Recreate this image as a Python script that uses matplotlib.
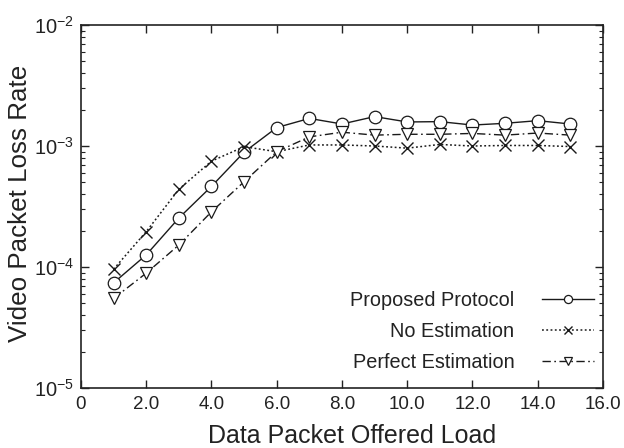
import matplotlib
matplotlib.use("Agg")
import matplotlib.pyplot as plt
from matplotlib.ticker import LogLocator, FixedLocator

plt.rcParams['font.family'] = ['Liberation Sans', 'DejaVu Sans']
plt.rcParams['mathtext.fontset'] = 'custom'
plt.rcParams['mathtext.rm'] = 'Liberation Sans'
plt.rcParams['mathtext.it'] = 'Liberation Sans'

load = [1, 2, 3, 4, 5, 6, 7, 8, 9, 10, 11, 12, 13, 14, 15]
proposed = [7.4e-5, 1.26e-4, 2.54e-4, 4.64e-4, 8.9e-4, 1.42e-3, 1.69e-3, 1.52e-3,
            1.75e-3, 1.58e-3, 1.59e-3, 1.49e-3, 1.54e-3, 1.62e-3, 1.52e-3]
no_est = [9.6e-5, 1.96e-4, 4.39e-4, 7.5e-4, 9.87e-4, 8.97e-4, 1.02e-3, 1.02e-3,
          1.0e-3, 9.6e-4, 1.03e-3, 1.0e-3, 1.01e-3, 1.01e-3, 9.9e-4]
perfect = [5.5e-5, 8.9e-5, 1.52e-4, 2.86e-4, 5.07e-4, 8.97e-4, 1.19e-3, 1.30e-3,
           1.23e-3, 1.25e-3, 1.25e-3, 1.27e-3, 1.23e-3, 1.28e-3, 1.23e-3]
labels = ["Proposed Protocol", "No Estimation", "Perfect Estimation"]
xticks = [0, 2, 4, 6, 8, 10, 12, 14, 16]

fig = plt.figure(figsize=(6.24, 4.48), dpi=100)
ax = fig.add_axes([0.1298, 0.1339, 0.8365, 0.8103])

c = '#1a1a1a'
ax.plot(load, proposed, '-', color=c, lw=1.0, marker='o', ms=9, mfc='white', mec=c, mew=0.9, label=labels[0])
ax.plot(load, no_est, linestyle=(0, (1.2, 1.6)), color=c, lw=1.1, marker='x', ms=9, mec=c, mew=1.0, label=labels[1])
ax.plot(load, perfect, linestyle=(0, (6, 2.5, 1.2, 2.5)), color=c, lw=1.0, marker='v', ms=9, mfc='white', mec=c, mew=0.9, label=labels[2])

ax.set_yscale('log')
ax.set_xlim(0, 16)
ax.set_ylim(1e-5, 1e-2)
ax.xaxis.set_major_locator(FixedLocator(xticks))
ax.set_xticklabels(['0'] + ['%.1f' % v for v in xticks[1:]])
ax.yaxis.set_major_locator(LogLocator(base=10, numticks=10))
ax.yaxis.set_minor_locator(LogLocator(base=10, subs=range(2, 10), numticks=100))
ax.tick_params(which='both', direction='in', top=True, right=True, colors='#222222')
ax.tick_params(axis='x', labelsize=13.5, pad=6)
ax.tick_params(axis='y', labelsize=14.5, pad=5)
ax.tick_params(which='major', length=6, width=1)
ax.tick_params(which='minor', length=3, width=0.8)
ax.tick_params(axis='x', which='minor', bottom=False, top=False)
for s in ax.spines.values():
    s.set_linewidth(1.2)
    s.set_color('#222222')

ax.set_xlabel("Data Packet Offered Load", fontsize=18, color='#222222', labelpad=7.5)
ax.set_ylabel("Video Packet Loss Rate", fontsize=18.7, color='#222222', labelpad=1)
ax.xaxis.label.set_x(0.519)
ax.yaxis.label.set_y(0.51)

leg = ax.legend(loc='lower right', bbox_to_anchor=(0.9828, 0.044), frameon=False,
                markerfirst=False, fontsize=14.3, markerscale=0.65,
                handlelength=2.6, handletextpad=1.4, labelspacing=0.6,
                borderpad=0, borderaxespad=0)
for t in leg.get_texts():
    t.set_color('#222222')
leg._legend_box.align = 'right'
for hp in leg._legend_handle_box.get_children():
    hp.align = 'right'

fig.savefig("out.png", dpi=100)
